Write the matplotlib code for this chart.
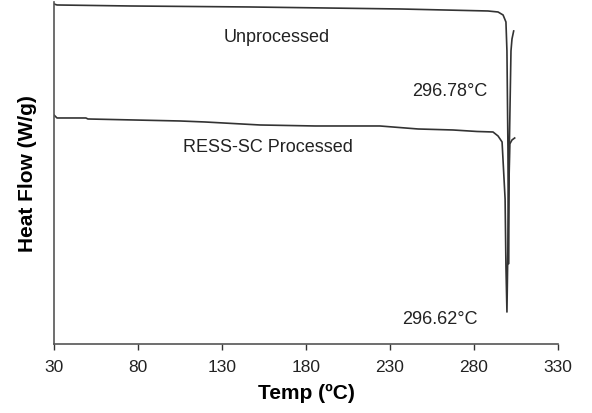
import matplotlib
matplotlib.use('Agg')
import matplotlib.pyplot as plt

plt.rcParams['font.family'] = ['Liberation Sans', 'DejaVu Sans']

# DSC traces (heat flow in arbitrary W/g units)
temp_unproc = [30, 31.8, 75.2, 146.7, 236, 288.3, 294.3, 297.3, 299, 299.6,
               300.2, 300.5, 301.0, 302.0, 302.6, 303.6]
hf_unproc = [3.40, 3.39, 3.38, 3.37, 3.35, 3.33, 3.32, 3.29, 3.22, 2.93,
             1.95, 0.80, 1.95, 2.93, 3.05, 3.13]

temp_ress = [30, 31.8, 49, 50.2, 105, 119.9, 152.6, 185.4, 224, 246.7, 267.5,
             281.8, 291.3, 294.3, 296.7, 298.5, 299, 299.6, 300.0, 300.6,
             301.3, 302.6, 304.2]
hf_ress = [2.29, 2.26, 2.26, 2.25, 2.23, 2.22, 2.19, 2.18, 2.18, 2.15, 2.14,
           2.125, 2.12, 2.08, 2.02, 1.45, 0.78, 0.32, 0.78, 1.45,
           2.00, 2.04, 2.06]

xticks = [30, 80, 130, 180, 230, 280, 330]

fig = plt.figure(figsize=(5.92, 4.14), dpi=100)
ax = fig.add_axes([0.0912, 0.1667, 0.8514, 0.8261])

ax.plot(temp_unproc, hf_unproc, color='#333333', lw=1.2)
ax.plot(temp_ress, hf_ress, color='#333333', lw=1.2)

ax.text(162.7, 3.07, 'Unprocessed', fontsize=13, ha='center', va='center', color='#222222')
ax.text(157.4, 1.97, 'RESS-SC Processed', fontsize=13, ha='center', va='center', color='#222222')
ax.text(265.7, 2.53, '296.78\u00b0C', fontsize=13, ha='center', va='center', color='#222222')
ax.text(259.8, 0.25, '296.62\u00b0C', fontsize=13, ha='center', va='center', color='#222222')

ax.set_xlim(30, 330)
ax.set_ylim(0, 3.42)
ax.set_xticks(xticks)
ax.set_yticks([])
ax.tick_params(axis='x', direction='out', length=4, width=1, labelsize=12.5,
               colors='#333333', labelcolor='#222222', pad=7)
for s in ['top', 'right']:
    ax.spines[s].set_visible(False)
for s in ['left', 'bottom']:
    ax.spines[s].set_color('#555555')
    ax.spines[s].set_linewidth(1.2)

ax.set_xlabel('Temp (\u00baC)', fontsize=15, fontweight='bold', labelpad=6)
ax.set_ylabel('Heat Flow (W/g)', fontsize=15, fontweight='bold', labelpad=12)

fig.savefig('out.png', dpi=100)
